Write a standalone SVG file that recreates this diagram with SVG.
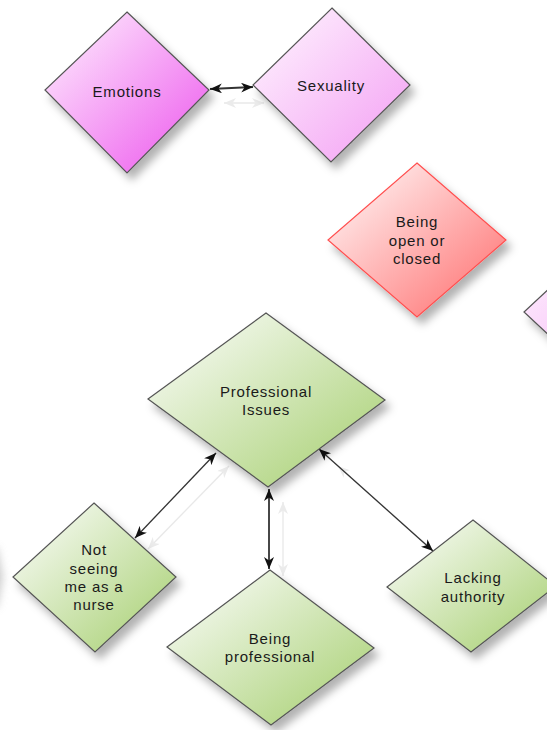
<svg xmlns="http://www.w3.org/2000/svg" width="547" height="730" viewBox="0 0 547 730">
<defs>
<style>
.lbl{font-family:"Liberation Sans",Arial,sans-serif;font-size:15px;letter-spacing:0.8px;fill:#1a1a1a;text-anchor:middle}
.dia{stroke:#555;stroke-width:1.2;filter:url(#sh)}
.con{fill:none;stroke:#333;stroke-width:1.3;marker-start:url(#ah);marker-end:url(#ah)}
.thk{stroke-width:1.8}
.ghost{fill:none;stroke:#e8e8e8;stroke-width:1.3;marker-start:url(#gh);marker-end:url(#gh)}
.ghost2{fill:none;stroke:#f2f2f2;stroke-width:1.2;marker-start:url(#gh);marker-end:url(#gh)}
</style>
<filter id="sh" x="-20%" y="-20%" width="150%" height="150%">
<feDropShadow dx="5" dy="7" stdDeviation="4" flood-color="#000" flood-opacity="0.3"/>
</filter>
<filter id="blur" x="-50%" y="-50%" width="200%" height="200%"><feGaussianBlur stdDeviation="4"/></filter>
<linearGradient id="gPink1" x1="0" y1="0" x2="1" y2="1"><stop offset="0.1" stop-color="#fde4fd"/><stop offset="0.95" stop-color="#ed5aed"/></linearGradient>
<linearGradient id="gPink2" x1="0" y1="0" x2="1" y2="1"><stop offset="0.15" stop-color="#fdeafd"/><stop offset="1" stop-color="#f39cf3"/></linearGradient>
<linearGradient id="gRed" x1="0" y1="0" x2="1" y2="1"><stop offset="0.15" stop-color="#ffe8e8"/><stop offset="1" stop-color="#ff6a6a"/></linearGradient>
<linearGradient id="gGreen" x1="0" y1="0" x2="1" y2="1"><stop offset="0.15" stop-color="#f1f7ea"/><stop offset="1" stop-color="#a4ce6c"/></linearGradient>
<marker id="ah" viewBox="0 0 12 10" refX="12" refY="5" markerWidth="12" markerHeight="10" markerUnits="userSpaceOnUse" orient="auto-start-reverse">
<path d="M0,0 L12,5 L0,10 L3.5,5 z" fill="#111"/>
</marker>
<marker id="gh" viewBox="0 0 12 10" refX="12" refY="5" markerWidth="12" markerHeight="10" markerUnits="userSpaceOnUse" orient="auto-start-reverse">
<path d="M0,0 L12,5 L0,10 L3.5,5 z" fill="#ebebeb"/>
</marker>
</defs>
<rect width="547" height="730" fill="#fff"/>

<!-- shadow of an off-canvas shape at left edge -->
<polygon points="-80,577 -3,547 3,577 -3,608" fill="#aaa" opacity="0.6" filter="url(#blur)"/>

<g id="connectors">
<line class="ghost" x1="224" y1="103" x2="264" y2="103"/>
<line class="ghost" x1="148" y1="549" x2="229" y2="466"/>
<line class="ghost" x1="283" y1="502" x2="283" y2="576"/>
<line class="ghost2" x1="338" y1="466" x2="446" y2="562"/>
<line class="con thk" x1="210" y1="89" x2="253" y2="87"/>
<line class="con" x1="135" y1="538" x2="216" y2="453"/>
<line class="con thk" x1="269" y1="489" x2="269" y2="569"/>
<line class="con" x1="319" y1="449" x2="433" y2="551"/>
</g>

<g id="emotions">
<polygon class="dia" points="127,12 209,90 127,173 45,90" fill="url(#gPink1)"/>
<text class="lbl" x="127" y="97">Emotions</text>
</g>

<g id="sexuality">
<polygon class="dia" points="332,8 410,85 331,162 253,85" fill="url(#gPink2)"/>
<text class="lbl" x="331" y="91">Sexuality</text>
</g>

<g id="being-open-or-closed">
<polygon class="dia" points="417,163 506,240 417,317 328,240" fill="url(#gRed)" style="stroke:#ff4f4f"/>
<text class="lbl" x="417" y="227">Being</text>
<text class="lbl" x="417" y="245.5">open or</text>
<text class="lbl" x="417" y="264">closed</text>
</g>

<g id="offscreen-pink">
<polygon class="dia" points="610,232 696,312 610,392 524,312" fill="url(#gPink2)"/>
</g>

<g id="professional-issues">
<polygon class="dia" points="266,313 385,400 268,487 148,399" fill="url(#gGreen)"/>
<text class="lbl" x="266" y="397">Professional</text>
<text class="lbl" x="266" y="415">Issues</text>
</g>

<g id="not-seeing-me-as-a-nurse">
<polygon class="dia" points="94,503 176,577 95,652 13,577" fill="url(#gGreen)"/>
<text class="lbl" x="94" y="555">Not</text>
<text class="lbl" x="94" y="573.5">seeing</text>
<text class="lbl" x="94" y="592">me as a</text>
<text class="lbl" x="94" y="610">nurse</text>
</g>

<g id="being-professional">
<polygon class="dia" points="270,570 374,648 271,725 167,647" fill="url(#gGreen)"/>
<text class="lbl" x="270" y="644">Being</text>
<text class="lbl" x="270" y="662">professional</text>
</g>

<g id="lacking-authority">
<polygon class="dia" points="473,520 556,586 471,652 387,587" fill="url(#gGreen)"/>
<text class="lbl" x="473" y="583">Lacking</text>
<text class="lbl" x="473" y="601.5">authority</text>
</g>
</svg>
